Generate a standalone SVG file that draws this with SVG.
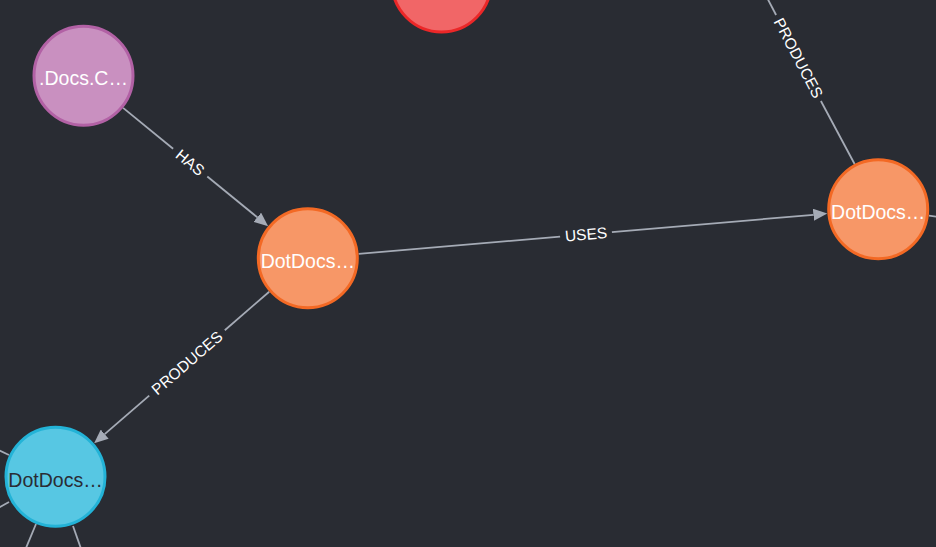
<svg xmlns="http://www.w3.org/2000/svg" width="936" height="547" viewBox="0 0 936 547">
<style>
.bg{fill:#292c33}
.edge{stroke:#a5abb6;stroke-width:1.8;fill:none}
.elabel{font-family:"Liberation Sans",Arial,sans-serif;font-size:15.5px;fill:#ffffff;text-anchor:middle}
.ncap{font-family:"Liberation Sans",Arial,sans-serif;font-size:19.5px;text-anchor:middle}
.red circle{fill:#f16667;stroke:#eb2728;stroke-width:3}
.purple circle{fill:#c990c0;stroke:#b261a5;stroke-width:3}
.orange circle{fill:#f79767;stroke:#f36924;stroke-width:3}
.blue circle{fill:#57c7e3;stroke:#23b3d7;stroke-width:3}
.light{fill:#ffffff}
.dark{fill:#2a2c34}
</style>
<defs>
<marker id="arrow" markerUnits="userSpaceOnUse" viewBox="0 -6 14 12" markerWidth="14" markerHeight="12" refX="0" refY="0" orient="auto">
<path d="M0,-6 L14,0 L0,6 Z" fill="#a5abb6"/>
</marker>
</defs>
<rect class="bg" x="0" y="0" width="936" height="547"/>
<g id="connectors">
<g id="edge-has">
<line class="edge" x1="123.1" y1="107.9" x2="173.1" y2="148.7"/>
<line class="edge" x1="207.3" y1="176.5" x2="257.3" y2="217.3" marker-end="url(#arrow)"/>
<text class="elabel" x="190.2" y="162.6" dy="0.35em" transform="rotate(39.15 190.2 162.6)">HAS</text>
</g>
<g id="edge-uses">
<line class="edge" x1="358.6" y1="253.9" x2="560.1" y2="236.6"/>
<line class="edge" x1="611.9" y1="232.1" x2="813.4" y2="214.8" marker-end="url(#arrow)"/>
<text class="elabel" x="586" y="234.35" dy="0.35em" transform="rotate(-4.92 586 234.35)">USES</text>
</g>
<g id="edge-produces-1">
<line class="edge" x1="269.2" y1="291.7" x2="224.8" y2="330.2"/>
<line class="edge" x1="149.2" y1="395.6" x2="104.7" y2="434.1" marker-end="url(#arrow)"/>
<text class="elabel" x="187" y="362.9" dy="0.35em" transform="rotate(-40.88 187 362.9)">PRODUCES</text>
</g>
<g id="edge-produces-2">
<line class="edge" x1="854.6" y1="164" x2="820.9" y2="101"/>
<line class="edge" x1="776.1" y1="15" x2="740" y2="-54"/>
<text class="elabel" x="798.5" y="58" dy="0.35em" transform="rotate(62.4 798.5 58)">PRODUCES</text>
</g>
<g id="edge-stubs">
<line class="edge" x1="929" y1="215.7" x2="960" y2="219.6"/>
<line class="edge" x1="9" y1="455" x2="-20" y2="441.5"/>
<line class="edge" x1="9" y1="502" x2="-20" y2="517.8"/>
<line class="edge" x1="36" y1="524" x2="21" y2="560"/>
<line class="edge" x1="73" y1="526" x2="85" y2="560"/>
</g>
</g>
<g id="node-red" class="red">
<circle cx="441.5" cy="-17.5" r="49.5"/>
</g>
<g id="node-purple" class="purple">
<circle cx="83.5" cy="75.7" r="49.5"/>
<text class="ncap light" x="83.5" y="85">.Docs.C…</text>
</g>
<g id="node-orange-mid" class="orange">
<circle cx="307.8" cy="258.3" r="49.5"/>
<text class="ncap light" x="307.8" y="268">DotDocs…</text>
</g>
<g id="node-orange-right" class="orange">
<circle cx="878.2" cy="209.2" r="49.5"/>
<text class="ncap light" x="878.2" y="219">DotDocs…</text>
</g>
<g id="node-blue" class="blue">
<circle cx="55.5" cy="476.7" r="49.5"/>
<text class="ncap dark" x="55.5" y="486.5">DotDocs…</text>
</g>
</svg>
